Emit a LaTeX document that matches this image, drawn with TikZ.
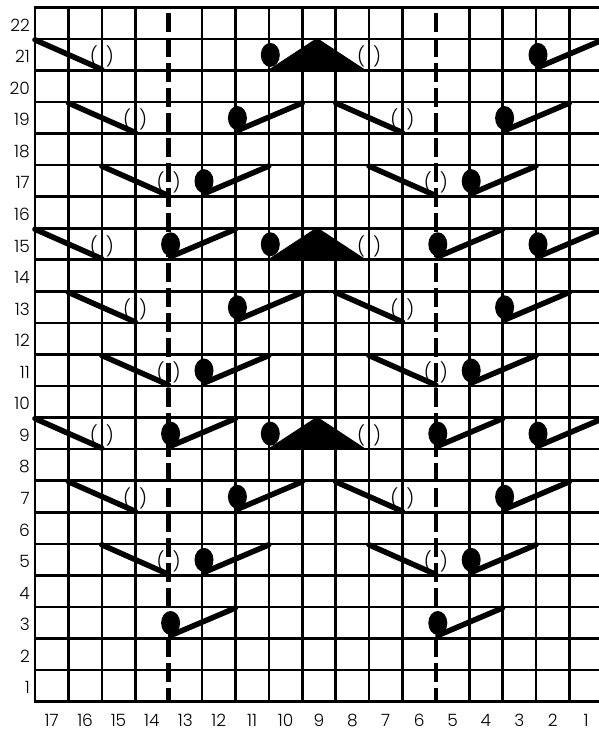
\documentclass[tikz,border=0pt]{standalone}
\usepackage{fontspec}
\setmainfont{Poppins Light}
\begin{document}
\begin{tikzpicture}[x=1pt,y=-1pt,
  gridline/.style={line width=2.6pt,black},
  thk/.style={line width=5.5pt,black,line cap=round},
  dashline/.style={line width=4.5pt,black,dash pattern=on 19pt off 6pt,dash phase=19pt},
  par/.style={font=\fontsize{19}{19}\selectfont,inner sep=0pt},
  lbl/.style={font=\fontsize{17}{17}\selectfont,inner sep=0pt}]
\useasboundingbox[fill=white] (0,0) rectangle (599,733);
\def\xx#1{35+(#1)*33.4}
\def\yy#1{7.3+(#1)*31.56}
% grid
\foreach \k in {0,...,17}{
  \ifnum\k=4\else\ifnum\k=12\else
  \draw[gridline] ({\xx{\k}},{\yy{0}}) -- ({\xx{\k}},{\yy{22}});
  \fi\fi}
\foreach \j in {0,...,22}{
  \draw[gridline] ({\xx{0}-1.3},{\yy{\j}}) -- ({\xx{17}},{\yy{\j}});}
\draw[dashline] ({\xx{4}},{\yy{0}}) -- ({\xx{4}},{\yy{22}});
\draw[dashline] ({\xx{12}},{\yy{0}}) -- ({\xx{12}},{\yy{22}});
% labels
\foreach \r in {1,...,22}{
  \node[lbl,anchor=east] (row\r) at (30,{\yy{22-\r+0.5}+2}) {\r};}
\foreach \c in {1,...,17}{
  \node[lbl] (col\c) at ({\xx{17-\c+0.5}},720.5) {\c};}
% motifs
\newcommand\myLP[2]{%
  \draw[thk] ({\xx{#1}},{\yy{#2}+1}) -- ({\xx{#1+2}},{\yy{#2+1}-1});
  \node[par] at ({\xx{#1+2}},{\yy{#2+0.5}+2}) {(\hspace{8pt})};}
\newcommand\myBL[2]{%
  \draw[thk] ({\xx{#1}+2},{\yy{#2+1}-3}) -- ({\xx{#1+2}},{\yy{#2}+1});
  \fill ({\xx{#1}+2},{\yy{#2+1}-15.5}) ellipse [x radius=9.5pt,y radius=12pt];}
\newcommand\myBT[2]{%
  \fill ({\xx{#1}+1.5},{\yy{#2+1}-15.5}) ellipse [x radius=9.5pt,y radius=12pt];
  \filldraw[line width=1.5pt,line join=round] ({\xx{#1}},{\yy{#2+1}}) -- (317,{\yy{#2}}) -- (365,{\yy{#2+1}}) -- cycle;
  \node[par] at ({\xx{#1+3}},{\yy{#2+0.5}+2}) {(\hspace{8pt})};}
% row 21
\myLP{0}{1}\myBT{7}{1}\myBL{15}{1}
% rows 19,13,7
\foreach \j in {3,9,15}{\myLP{1}{\j}\myBL{6}{\j}\myLP{9}{\j}\myBL{14}{\j}}
% rows 17,11,5
\foreach \j in {5,11,17}{\myLP{2}{\j}\myBL{5}{\j}\myLP{10}{\j}\myBL{13}{\j}}
% rows 15,9
\foreach \j in {7,13}{\myLP{0}{\j}\myBL{4}{\j}\myBT{7}{\j}\myBL{12}{\j}\myBL{15}{\j}}
% row 3
\myBL{4}{19}\myBL{12}{19}
\end{tikzpicture}
\end{document}
